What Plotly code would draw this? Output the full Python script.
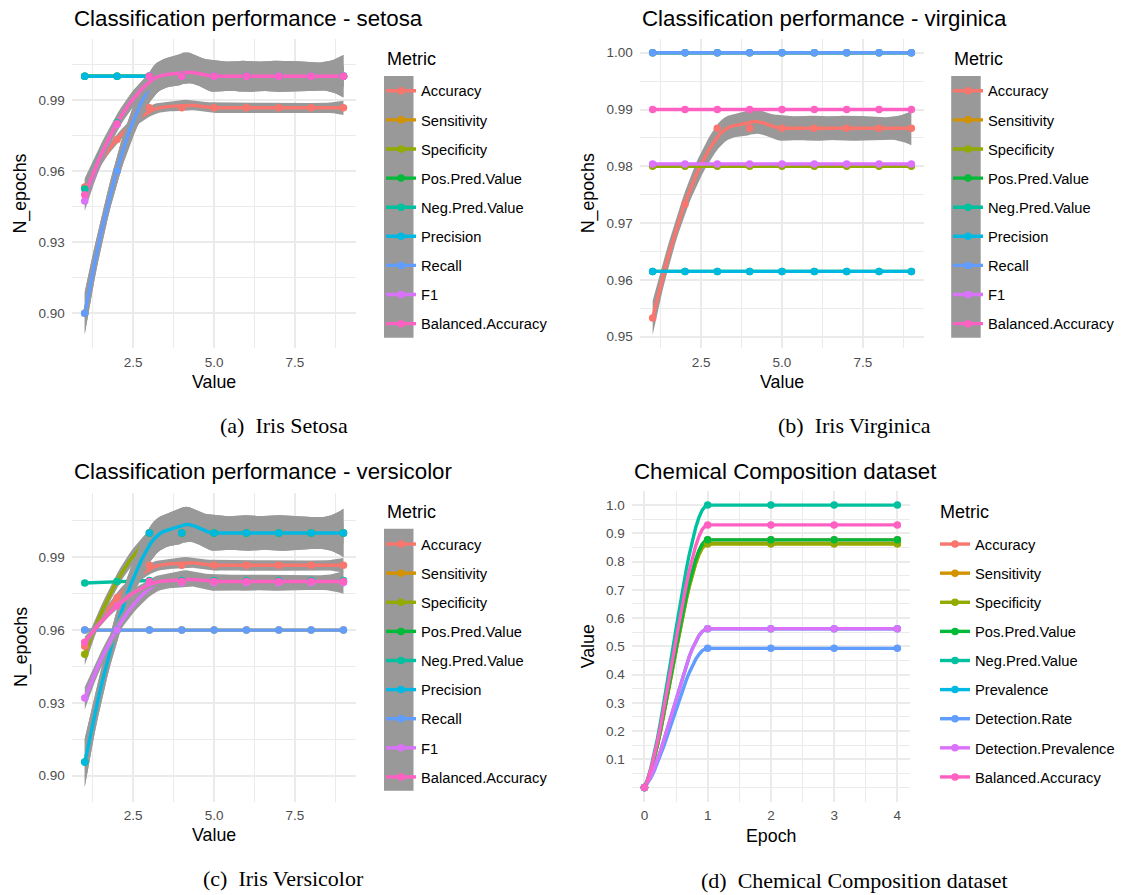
import numpy as np
import plotly.graph_objects as go
from math import lgamma, pi, exp

# ------------------------------------------------------------------ data
iris_epochs = [1, 2, 3, 4, 5, 6, 7, 8, 9]
chem_epochs = [0, 1, 2, 3, 4]

iris_metrics = ["Accuracy", "Sensitivity", "Specificity", "Pos.Pred.Value",
                "Neg.Pred.Value", "Precision", "Recall", "F1", "Balanced.Accuracy"]
chem_metrics = ["Accuracy", "Sensitivity", "Specificity", "Pos.Pred.Value",
                "Neg.Pred.Value", "Prevalence", "Detection.Rate",
                "Detection.Prevalence", "Balanced.Accuracy"]
metric_colors = ["#F8766D", "#D39200", "#93AA00", "#00BA38", "#00C19F",
                 "#00B9E3", "#619CFF", "#DB72FB", "#FF61C3"]

# Iris setosa
setosa_accuracy = [0.9533, 0.9733, 0.9867, 0.9867, 0.9867, 0.9867, 0.9867, 0.9867, 0.9867]
setosa_sensitivity = [0.90, 0.96, 1.0, 1.0, 1.0, 1.0, 1.0, 1.0, 1.0]
setosa_specificity = [1.0, 1.0, 1.0, 1.0, 1.0, 1.0, 1.0, 1.0, 1.0]
setosa_ppv = [1.0, 1.0, 1.0, 1.0, 1.0, 1.0, 1.0, 1.0, 1.0]
setosa_npv = [0.9524, 0.9804, 1.0, 1.0, 1.0, 1.0, 1.0, 1.0, 1.0]
setosa_precision = [1.0, 1.0, 1.0, 1.0, 1.0, 1.0, 1.0, 1.0, 1.0]
setosa_recall = [0.90, 0.96, 1.0, 1.0, 1.0, 1.0, 1.0, 1.0, 1.0]
setosa_f1 = [0.9474, 0.9796, 1.0, 1.0, 1.0, 1.0, 1.0, 1.0, 1.0]
setosa_balanced = [0.95, 0.98, 1.0, 1.0, 1.0, 1.0, 1.0, 1.0, 1.0]

# Iris virginica
virginica_accuracy = [0.9533, 0.9733, 0.9867, 0.9867, 0.9867, 0.9867, 0.9867, 0.9867, 0.9867]
virginica_sensitivity = [1.0, 1.0, 1.0, 1.0, 1.0, 1.0, 1.0, 1.0, 1.0]
virginica_specificity = [0.98, 0.98, 0.98, 0.98, 0.98, 0.98, 0.98, 0.98, 0.98]
virginica_ppv = [0.9615, 0.9615, 0.9615, 0.9615, 0.9615, 0.9615, 0.9615, 0.9615, 0.9615]
virginica_npv = [1.0, 1.0, 1.0, 1.0, 1.0, 1.0, 1.0, 1.0, 1.0]
virginica_precision = [0.9615, 0.9615, 0.9615, 0.9615, 0.9615, 0.9615, 0.9615, 0.9615, 0.9615]
virginica_recall = [1.0, 1.0, 1.0, 1.0, 1.0, 1.0, 1.0, 1.0, 1.0]
virginica_f1 = [0.9804, 0.9804, 0.9804, 0.9804, 0.9804, 0.9804, 0.9804, 0.9804, 0.9804]
virginica_balanced = [0.99, 0.99, 0.99, 0.99, 0.99, 0.99, 0.99, 0.99, 0.99]

# Iris versicolor
versicolor_accuracy = [0.9533, 0.9733, 0.9867, 0.9867, 0.9867, 0.9867, 0.9867, 0.9867, 0.9867]
versicolor_sensitivity = [0.96, 0.96, 0.96, 0.96, 0.96, 0.96, 0.96, 0.96, 0.96]
versicolor_specificity = [0.95, 0.98, 1.0, 1.0, 1.0, 1.0, 1.0, 1.0, 1.0]
versicolor_ppv = [0.9057, 0.96, 1.0, 1.0, 1.0, 1.0, 1.0, 1.0, 1.0]
versicolor_npv = [0.9794, 0.98, 0.9804, 0.9804, 0.9804, 0.9804, 0.9804, 0.9804, 0.9804]
versicolor_precision = [0.9057, 0.96, 1.0, 1.0, 1.0, 1.0, 1.0, 1.0, 1.0]
versicolor_recall = [0.96, 0.96, 0.96, 0.96, 0.96, 0.96, 0.96, 0.96, 0.96]
versicolor_f1 = [0.9320, 0.96, 0.9796, 0.9796, 0.9796, 0.9796, 0.9796, 0.9796, 0.9796]
versicolor_balanced = [0.955, 0.97, 0.98, 0.98, 0.98, 0.98, 0.98, 0.98, 0.98]

# Chemical composition dataset
chem_accuracy = [0.0, 0.877, 0.877, 0.877, 0.877]
chem_sensitivity = [0.0, 0.863, 0.863, 0.863, 0.863]
chem_specificity = [0.0, 0.863, 0.863, 0.863, 0.863]
chem_ppv = [0.0, 0.877, 0.877, 0.877, 0.877]
chem_npv = [0.0, 1.0, 1.0, 1.0, 1.0]
chem_prevalence = [0.0, 0.5625, 0.5625, 0.5625, 0.5625]
chem_detection_rate = [0.0, 0.493, 0.493, 0.493, 0.493]
chem_detection_prevalence = [0.0, 0.5625, 0.5625, 0.5625, 0.5625]
chem_balanced = [0.0, 0.930, 0.930, 0.930, 0.930]

panel_titles = ["Classification performance - setosa",
                "Classification performance - virginica",
                "Classification performance - versicolor",
                "Chemical Composition dataset"]
captions = ["(a)\u2002Iris Setosa", "(b)\u2002Iris Virginica",
            "(c)\u2002Iris Versicolor", "(d)\u2002Chemical Composition dataset"]
x_titles = ["Value", "Value", "Value", "Epoch"]
y_titles = ["N_epochs", "N_epochs", "N_epochs", "Value"]
legend_title = "Metric"

setosa = [setosa_accuracy, setosa_sensitivity, setosa_specificity, setosa_ppv, setosa_npv,
          setosa_precision, setosa_recall, setosa_f1, setosa_balanced]
virginica = [virginica_accuracy, virginica_sensitivity, virginica_specificity, virginica_ppv,
             virginica_npv, virginica_precision, virginica_recall, virginica_f1, virginica_balanced]
versicolor = [versicolor_accuracy, versicolor_sensitivity, versicolor_specificity, versicolor_ppv,
              versicolor_npv, versicolor_precision, versicolor_recall, versicolor_f1,
              versicolor_balanced]
chem = [chem_accuracy, chem_sensitivity, chem_specificity, chem_ppv, chem_npv, chem_prevalence,
        chem_detection_rate, chem_detection_prevalence, chem_balanced]


# ------------------------------------------------ loess (as in R / geom_smooth)
def t975(df):
    c = exp(lgamma((df + 1) / 2) - lgamma(df / 2)) / np.sqrt(df * pi)
    t = np.linspace(0, 80, 800001)
    pdf = c * (1 + t * t / df) ** (-(df + 1) / 2)
    cdf = 0.5 + np.concatenate([[0.0], np.cumsum(0.5 * (pdf[1:] + pdf[:-1]) * np.diff(t))])
    return float(np.interp(0.975, cdf, t))


def loess_smooth(x, y, xnew, span=0.75, cell=0.2, se=True):
    x = np.asarray(x, float)
    y = np.asarray(y, float)
    n = len(x)
    q = int(np.floor(n * span + 1e-5))
    fc = int(np.floor(n * span * cell))
    xs = np.sort(x)
    mu = 0.005 * max(xs[-1] - xs[0], 1e-10)
    lo, hi = xs[0] - mu, xs[-1] + mu
    verts = {lo, hi}

    def rec(l, u, vlo, vhi):
        if u < l or (u - l + 1) <= fc:
            return
        m = (l + u) // 2
        s = xs[m]
        if s == vlo or s == vhi:
            return
        verts.add(s)
        rec(l, m, vlo, s)
        rec(m + 1, u, s, vhi)

    rec(0, n - 1, lo, hi)
    V = np.array(sorted(verts))
    val_op = np.zeros((len(V), n))
    slp_op = np.zeros((len(V), n))
    for k, v in enumerate(V):
        d = np.abs(x - v)
        rho = np.sort(d)[q - 1]
        r = d / rho
        w = np.where(r < 1, (1 - r ** 3) ** 3, 0.0)
        sw = np.sqrt(w)
        X = np.column_stack([np.ones(n), x - v, (x - v) ** 2]) * sw[:, None]
        nrm = np.sqrt((X ** 2).sum(0))
        nrm[nrm == 0] = 1.0
        P = np.linalg.pinv(X / nrm, rcond=100 * np.finfo(float).eps)
        C = (P / nrm[:, None]) * sw[None, :]
        val_op[k] = C[0]
        slp_op[k] = C[1]

    def interp_op(z):
        z = np.atleast_1d(np.asarray(z, float))
        out = np.zeros((len(z), n))
        for i, zz in enumerate(z):
            j = int(np.searchsorted(V, zz, side="right") - 1)
            j = min(max(j, 0), len(V) - 2)
            h = V[j + 1] - V[j]
            u = (zz - V[j]) / h
            phi0 = (1 - u) ** 2 * (1 + 2 * u)
            phi1 = u ** 2 * (3 - 2 * u)
            psi0 = u * (1 - u) ** 2
            psi1 = -u ** 2 * (1 - u)
            out[i] = (phi0 * val_op[j] + phi1 * val_op[j + 1]
                      + h * (psi0 * slp_op[j] + psi1 * slp_op[j + 1]))
        return out

    Lnew = interp_op(xnew)
    fit = Lnew @ y
    if not se:
        return fit, None, None
    L = interp_op(x)
    res = y - L @ y
    M = np.eye(n) - L
    A = M.T @ M
    d1 = np.trace(A)
    d2 = np.trace(A @ A)
    s = np.sqrt((res ** 2).sum() / d1)
    sef = s * np.sqrt((Lnew ** 2).sum(1))
    tq = t975(d1 ** 2 / d2)
    return fit, fit - tq * sef, fit + tq * sef


# ------------------------------------------------------------------ layout
W, H = 1121, 895
FONT = "Liberation Sans"
SERIF = "Liberation Serif"
RIBBON = "#999999"
GRID = "#EBEBEB"

# plot areas in pixels: (left, right, top, bottom)
areas = [(71.8, 356.4, 39.3, 348.3), (639.7, 924.3, 39.3, 348.3),
         (71.8, 356.4, 492.7, 801.7), (631.8, 910.0, 491.0, 801.7)]
xranges = [[0.6, 9.4], [0.6, 9.4], [0.6, 9.4], [-0.2, 4.2]]
yranges = [[0.8852, 1.0156], [0.94796, 1.00236], [0.88929, 1.01662], [-0.05, 1.05]]
xticks = [[2.5, 5.0, 7.5]] * 3 + [[0, 1, 2, 3, 4]]
xminor = [[1.25, 3.75, 6.25, 8.75]] * 3 + [[0.5, 1.5, 2.5, 3.5]]
yticks = [[0.90, 0.93, 0.96, 0.99], [0.95, 0.96, 0.97, 0.98, 0.99, 1.00],
          [0.90, 0.93, 0.96, 0.99], [round(0.1 * k, 1) for k in range(1, 11)]]
yminor = [[0.885, 0.915, 0.945, 0.975, 1.005],
          [0.955, 0.965, 0.975, 0.985, 0.995],
          [0.915, 0.945, 0.975, 1.005],
          [0.0] + [round(0.05 + 0.1 * k, 2) for k in range(11)]]
xfmt = [".1f", ".1f", ".1f", "d"]
yfmt = [".2f", ".2f", ".2f", ".1f"]
has_se = [True, True, True, False]
panel_data = [setosa, virginica, versicolor, chem]
panel_epochs = [iris_epochs, iris_epochs, iris_epochs, chem_epochs]
panel_metrics = [iris_metrics, iris_metrics, iris_metrics, chem_metrics]

# legend geometry (pixels): left/top of legend items, "Metric" label, gray key box
legend_pos = [(381.0, 74.7), (948.0, 74.7), (381.0, 528.0), (935.0, 528.0)]
legend_title_pos = [(384.8, 59.0), (952.3, 59.0), (384.8, 512.3), (938.0, 512.3)]
key_boxes = [(384.0, 413.5, 76.0, 337.7), (951.2, 980.7, 76.0, 337.7),
             (384.0, 413.5, 528.7, 790.7), None]
title_y = [18.7, 18.7, 471.7, 471.7]
caption_pos = [(283.6, 425.0), (854.3, 425.0), (283.6, 878.3), (854.3, 880.0)]
xtitle_y = [381.7, 381.7, 835.0, 835.7]
ytitle_x = [20.8, 588.5, 20.8, 588.0]


def px_x(v):
    return v / W


def px_y(v):
    return 1 - v / H


fig = go.Figure()
LW = 3.4
MS = 7.5

for p in range(4):
    xa = "x" if p == 0 else "x%d" % (p + 1)
    ya = "y" if p == 0 else "y%d" % (p + 1)
    leg = "legend" if p == 0 else "legend%d" % (p + 1)
    ep = panel_epochs[p]
    xseq = np.linspace(min(ep), max(ep), 80)
    # smooths: ribbon then line, per metric
    for i, vals in enumerate(panel_data[p]):
        fit, lo, hi = loess_smooth(ep, vals, xseq, se=has_se[p])
        if has_se[p]:
            fig.add_trace(go.Scatter(
                x=np.concatenate([xseq, xseq[::-1]]), y=np.concatenate([lo, hi[::-1]]),
                fill="toself", fillcolor=RIBBON, mode="lines", line=dict(width=0),
                hoverinfo="skip", showlegend=False, xaxis=xa, yaxis=ya))
        fig.add_trace(go.Scatter(
            x=xseq, y=fit, mode="lines", line=dict(color=metric_colors[i], width=LW),
            showlegend=False, hoverinfo="skip", xaxis=xa, yaxis=ya))
    # points
    for i, vals in enumerate(panel_data[p]):
        fig.add_trace(go.Scatter(
            x=ep, y=vals, mode="markers", marker=dict(color=metric_colors[i], size=MS),
            name=panel_metrics[p][i], showlegend=False, xaxis=xa, yaxis=ya))
    # legend entries
    for i, name in enumerate(panel_metrics[p]):
        fig.add_trace(go.Scatter(
            x=[None], y=[None], mode="lines+markers", name=name,
            line=dict(color=metric_colors[i], width=LW),
            marker=dict(color=metric_colors[i], size=MS),
            legend=leg, legendgroup="p%d_%d" % (p, i), showlegend=True,
            xaxis=xa, yaxis=ya))

    l, r, t, b = areas[p]
    axis_common = dict(showline=False, zeroline=False, ticks="", showgrid=True,
                       gridcolor=GRID, gridwidth=1.7,
                       tickfont=dict(family=FONT, size=13.5, color="#4D4D4D"))
    fig.layout[xa.replace("x", "xaxis")] = dict(
        domain=[px_x(l), px_x(r)], anchor=ya, range=xranges[p],
        tickmode="array", tickvals=xticks[p], tickformat=xfmt[p],
        minor=dict(tickmode="array", tickvals=xminor[p], showgrid=True,
                   gridcolor=GRID, gridwidth=0.9),
        ticklabelstandoff=4, **axis_common)
    fig.layout[ya.replace("y", "yaxis")] = dict(
        domain=[px_y(b), px_y(t)], anchor=xa, range=yranges[p],
        tickmode="array", tickvals=yticks[p], tickformat=yfmt[p],
        minor=dict(tickmode="array", tickvals=yminor[p], showgrid=True,
                   gridcolor=GRID, gridwidth=0.9),
        ticklabelstandoff=6, **axis_common)

    lx, ly = legend_pos[p]
    fig.layout[leg] = dict(
        x=px_x(lx), y=px_y(ly), xanchor="left", yanchor="top",
        bgcolor="rgba(0,0,0,0)", borderwidth=0, tracegroupgap=7,
        font=dict(family=FONT, size=14.7, color="black"))
    tx, ty = legend_title_pos[p]
    fig.add_annotation(text=legend_title, x=px_x(tx), y=px_y(ty),
                       xref="paper", yref="paper", xanchor="left", yanchor="middle",
                       showarrow=False, font=dict(family=FONT, size=18, color="black"))

    if key_boxes[p] is not None:
        kl, kr, kt, kb = key_boxes[p]
        fig.add_shape(type="rect", xref="paper", yref="paper",
                      x0=px_x(kl), x1=px_x(kr), y0=px_y(kb), y1=px_y(kt),
                      fillcolor=RIBBON, line=dict(width=0), layer="below")

    fig.add_annotation(text=panel_titles[p], x=px_x(l), y=px_y(title_y[p]),
                       xref="paper", yref="paper", xanchor="left", yanchor="middle",
                       showarrow=False, font=dict(family=FONT, size=22.3, color="black"))
    fig.add_annotation(text=x_titles[p], x=px_x((l + r) / 2), y=px_y(xtitle_y[p]),
                       xref="paper", yref="paper", xanchor="center", yanchor="middle",
                       showarrow=False, font=dict(family=FONT, size=17.8, color="black"))
    fig.add_annotation(text=y_titles[p], x=px_x(ytitle_x[p]), y=px_y((t + b) / 2),
                       xref="paper", yref="paper", xanchor="center", yanchor="middle",
                       textangle=-90, showarrow=False,
                       font=dict(family=FONT, size=17.8, color="black"))
    cx, cy = caption_pos[p]
    fig.add_annotation(text=captions[p], x=px_x(cx), y=px_y(cy),
                       xref="paper", yref="paper", xanchor="center", yanchor="middle",
                       showarrow=False, font=dict(family=SERIF, size=22, color="black"))

fig.update_layout(width=W, height=H, margin=dict(l=0, r=0, t=0, b=0),
                  paper_bgcolor="white", plot_bgcolor="white",
                  font=dict(family=FONT), showlegend=True, hovermode=False)

fig.write_html("out.html")
